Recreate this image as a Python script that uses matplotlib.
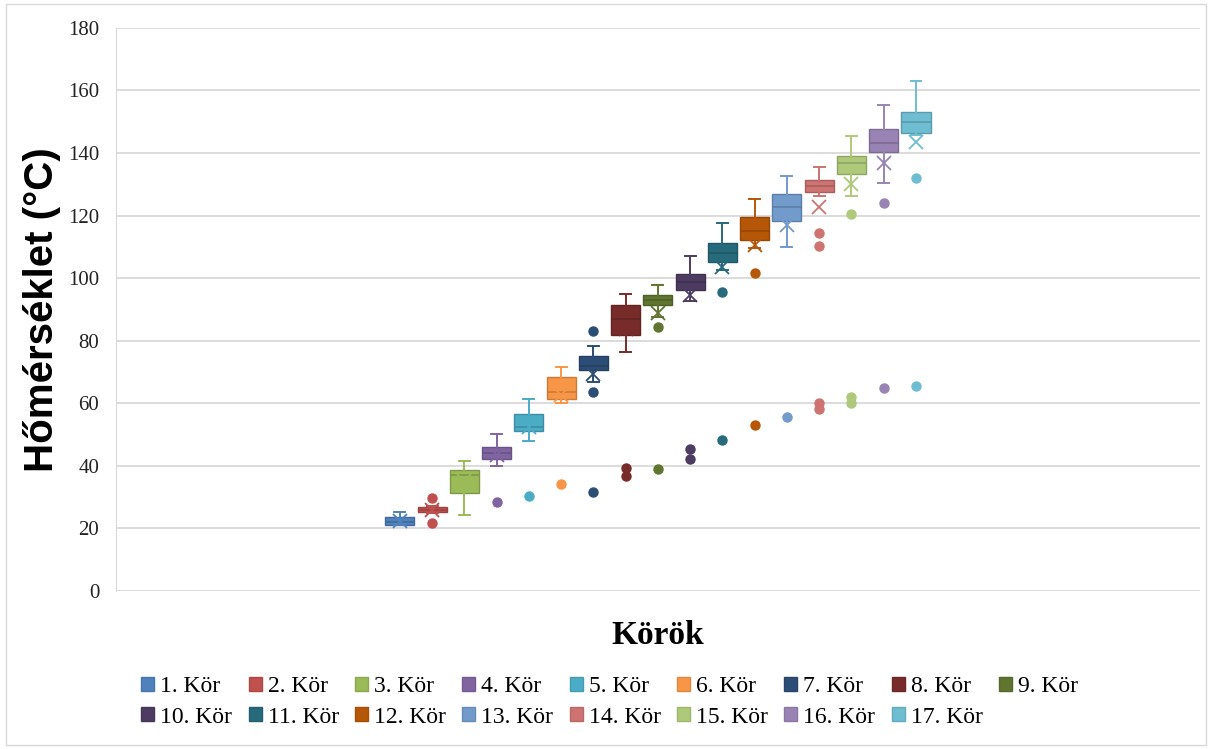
import matplotlib
matplotlib.use('Agg')
import matplotlib.pyplot as plt
from matplotlib.patches import Patch, Rectangle
import matplotlib.colors as mcolors

# Excel style box & whisker, one box per lap ("Kör")
labels = ['%d. Kör' % i for i in range(1, 18)]
colors = ['#4F81BD', '#C0504D', '#9BBB59', '#8064A2', '#4BACC6', '#F79646',
          '#2C4D75', '#772C2A', '#5F7530', '#4D3B62', '#276A7C', '#B65708',
          '#729ACA', '#CD7371', '#AFC97A', '#9983B5', '#6FBDD1']

whislo = [21.0, 25.0, 24.2, 40.0, 47.9, 60.0, 66.8, 76.4, 87.7, 92.8, 102.6, 109.6, 110.0, 126.4, 126.4, 130.3, 145.7]
q1     = [21.2, 25.3, 31.2, 42.1, 51.0, 61.4, 70.5, 81.7, 91.5, 96.1, 105.2, 112.2, 118.4, 127.5, 133.2, 140.4, 146.3]
med    = [22.2, 26.0, 37.0, 44.0, 52.3, 63.7, 71.9, 86.9, 93.0, 98.9, 108.0, 115.1, 122.9, 129.5, 136.7, 143.1, 150.0]
q3     = [23.6, 26.9, 38.7, 45.9, 56.6, 68.4, 75.2, 91.3, 94.5, 101.4, 111.3, 119.4, 126.8, 131.4, 139.1, 147.7, 153.2]
whishi = [25.2, 27.3, 41.6, 50.1, 61.3, 71.6, 78.3, 94.8, 97.9, 107.0, 117.6, 125.2, 132.7, 135.5, 145.5, 155.5, 163.0]
means  = [22.3, 26.0, 35.3, 43.6, 52.3, 62.7, 69.5, 83.7, 89.0, 94.6, 103.5, 110.5, 117.0, 122.9, 130.0, 136.9, 143.6]
fliers = [[], [29.6, 21.8], [], [28.4], [30.2], [34.2], [83.1, 63.7, 31.7],
          [39.4, 36.8], [84.4, 38.9], [45.5, 42.1], [95.7, 48.2], [101.6, 53.2],
          [55.6], [114.3, 110.4, 60.2, 58.1], [120.4, 62.0, 60.0], [124.0, 64.9],
          [132.1, 65.4]]


def shade(c, f):
    r, g, b = mcolors.to_rgb(c)
    return (r * f, g * f, b * f)


fig = plt.figure(figsize=(12.12, 7.49), dpi=100)
ax = fig.add_axes([0.0957, 0.211, 0.8943, 0.7517])

for i in range(17):
    c = colors[i]
    dk = shade(c, 0.82)
    st = dict(whislo=whislo[i], q1=q1[i], med=med[i], q3=q3[i], whishi=whishi[i],
              mean=means[i], fliers=fliers[i], label=labels[i])
    ax.bxp([st], positions=[i + 1], widths=0.9, capwidths=0.34, patch_artist=True,
           showmeans=True, showfliers=True,
           boxprops=dict(facecolor=c, edgecolor=dk, linewidth=1.0),
           medianprops=dict(color=dk, linewidth=1.2),
           whiskerprops=dict(color=c, linewidth=1.4),
           capprops=dict(color=c, linewidth=1.4),
           meanprops=dict(marker='x', markeredgecolor=c, markersize=10, markeredgewidth=1.3),
           flierprops=dict(marker='o', markerfacecolor=c, markeredgecolor=c, markersize=6.5))

ax.set_xlim(-7.8, 25.8)
ax.set_ylim(0, 180)
ax.set_yticks(range(0, 181, 20))
ax.set_xticks([])
ax.grid(axis='y', color='#D9D9D9', linewidth=1.3)
ax.set_axisbelow(True)
for s in ['top', 'right', 'bottom']:
    ax.spines[s].set_visible(False)
ax.spines['left'].set_color('#D9D9D9')
ax.tick_params(axis='y', length=0, pad=12, labelsize=15, labelcolor='#222222')
for t in ax.get_yticklabels():
    t.set_fontfamily('Liberation Serif')

ax.set_ylabel('Hőmérséklet (°C)', fontsize=29, fontweight='bold',
              family='Liberation Sans', labelpad=5)
fig.text(0.543, 0.152, 'Körök', fontsize=24, fontweight='bold',
         family='Liberation Serif', ha='center', va='center')

# legend fills column by column, so interleave to get 1-9 on row 1, 10-17 on row 2
order = []
for j in range(9):
    order.append(j)
    if j + 9 < 17:
        order.append(j + 9)
handles = [Patch(facecolor=colors[i], edgecolor=shade(colors[i], 0.9), label=labels[i])
           for i in order]
fig.legend(handles=handles, ncol=9, loc='center', bbox_to_anchor=(0.503, 0.063),
           frameon=False, prop={'family': 'Liberation Serif', 'size': 17},
           handlelength=0.55, handleheight=0.55, handletextpad=0.25,
           columnspacing=0.7, labelspacing=0.4)

# chart area border
fig.patches.append(Rectangle((0.005, 0.005), 0.99, 0.99, transform=fig.transFigure,
                             fill=False, edgecolor='#D9D9D9', linewidth=1))

fig.savefig('out.png', dpi=100)
